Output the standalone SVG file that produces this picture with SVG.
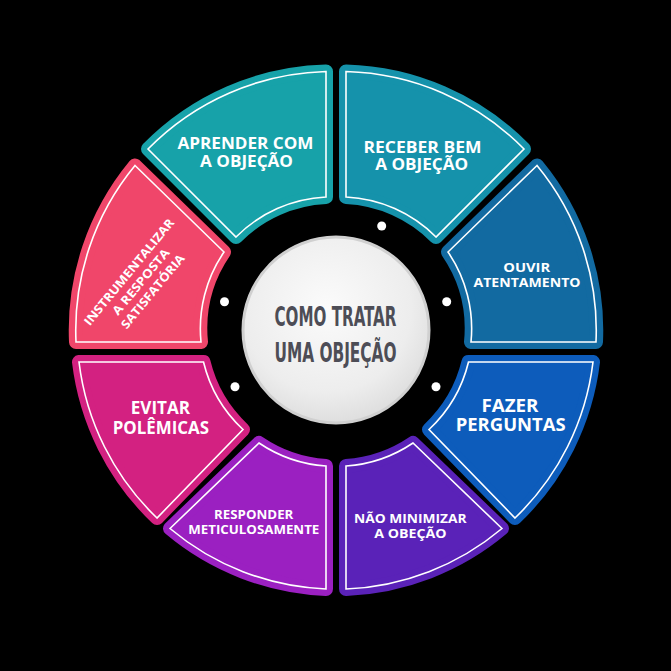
<svg xmlns="http://www.w3.org/2000/svg" xmlns:xlink="http://www.w3.org/1999/xlink" width="671" height="671" viewBox="0 0 671 671">
<style>
.seg{stroke-width:14;stroke-linejoin:round}
.inl{fill:none;stroke:#ffffff;stroke-width:1.6;stroke-linejoin:miter}
.lbl{font-family:"Open Sans","Liberation Sans",sans-serif;font-weight:700;fill:#ffffff;text-anchor:middle}
.ctr{font-family:"DejaVu Sans Condensed","DejaVu Sans","Liberation Sans",sans-serif;font-weight:700;fill:#4d4d56;text-anchor:middle;font-size:27px}
.dot{fill:#ffffff}
</style>
<defs>
<radialGradient id="cg" cx="0.45" cy="0.38" r="0.65">
<stop offset="0" stop-color="#fbfbfb"/>
<stop offset="0.7" stop-color="#ededed"/>
<stop offset="1" stop-color="#dcdcdc"/>
</radialGradient>
<path id="p-aprender" d="M326,197 L326,71.5 A259,259 0 0 0 148,149 L236,237 A136,136 0 0 1 326,197 Z"/>
<path id="p-receber" d="M346,197 L346,71.5 A259,259 0 0 1 524,149 L436,237 A136,136 0 0 0 346,197 Z"/>
<path id="p-instr" d="M135,165.5 L224,252 A136,136 0 0 0 201,342 L76,342 A259,259 0 0 1 135,165.5 Z"/>
<path id="p-ouvir" d="M537,165.5 L448,252 A136,136 0 0 1 471,342 L596,342 A259,259 0 0 0 537,165.5 Z"/>
<path id="p-evitar" d="M79,362 L203.5,362 A136,136 0 0 0 243,429.5 L157,518 A259,259 0 0 1 79,362 Z"/>
<path id="p-fazer" d="M593,362 L468.5,362 A136,136 0 0 1 429,429.5 L515,518 A259,259 0 0 0 593,362 Z"/>
<path id="p-responder" d="M170,528.5 L259,443 A136,136 0 0 0 326,466 L326,589 A259,259 0 0 1 170,528.5 Z"/>
<path id="p-nao" d="M502,528.5 L413,443 A136,136 0 0 1 346,466 L346,589 A259,259 0 0 0 502,528.5 Z"/>
</defs>
<rect x="0" y="0" width="671" height="671" fill="#000000"/>

<g id="connectors"></g>

<g id="n-instrumentalizar">
<use xlink:href="#p-instr" class="seg" fill="#f0466a" stroke="#f0466a"/>
<use xlink:href="#p-instr" class="inl"/>
<text class="lbl" font-size="12" transform="translate(140.8,281.7) rotate(-50.5)"><tspan x="0" y="-11" textLength="134" lengthAdjust="spacingAndGlyphs">INSTRUMENTALIZAR</tspan><tspan x="0" y="4.3" textLength="82" lengthAdjust="spacingAndGlyphs">A RESPOSTA</tspan><tspan x="0" y="19.6" textLength="92" lengthAdjust="spacingAndGlyphs">SATISFATÓRIA</tspan></text>
</g>

<g id="n-aprender">
<use xlink:href="#p-aprender" class="seg" fill="#17a2a9" stroke="#17a2a9"/>
<use xlink:href="#p-aprender" class="inl"/>
<text class="lbl" font-size="15.5"><tspan x="245.5" y="149.3" textLength="136" lengthAdjust="spacingAndGlyphs">APRENDER COM</tspan><tspan x="246.5" y="166.7" textLength="93" lengthAdjust="spacingAndGlyphs">A OBJEÇÃO</tspan></text>
</g>

<g id="n-receber">
<use xlink:href="#p-receber" class="seg" fill="#1592ab" stroke="#1592ab"/>
<use xlink:href="#p-receber" class="inl"/>
<text class="lbl" font-size="15.5"><tspan x="422.5" y="152.7" textLength="118" lengthAdjust="spacingAndGlyphs">RECEBER BEM</tspan><tspan x="421.7" y="170" textLength="93" lengthAdjust="spacingAndGlyphs">A OBJEÇÃO</tspan></text>
</g>

<g id="n-ouvir">
<use xlink:href="#p-ouvir" class="seg" fill="#126aa1" stroke="#126aa1"/>
<use xlink:href="#p-ouvir" class="inl"/>
<text class="lbl" font-size="13"><tspan x="526.7" y="271.7" textLength="47" lengthAdjust="spacingAndGlyphs">OUVIR</tspan><tspan x="527" y="286.5" textLength="107" lengthAdjust="spacingAndGlyphs">ATENTAMENTO</tspan></text>
</g>

<g id="n-fazer">
<use xlink:href="#p-fazer" class="seg" fill="#0d5cbb" stroke="#0d5cbb"/>
<use xlink:href="#p-fazer" class="inl"/>
<text class="lbl" font-size="17"><tspan x="510" y="411.7" textLength="57" lengthAdjust="spacingAndGlyphs">FAZER</tspan><tspan x="510.7" y="430.7" textLength="110" lengthAdjust="spacingAndGlyphs">PERGUNTAS</tspan></text>
</g>

<g id="n-nao-minimizar">
<use xlink:href="#p-nao" class="seg" fill="#5a22b8" stroke="#5a22b8"/>
<use xlink:href="#p-nao" class="inl"/>
<text class="lbl" font-size="12.5"><tspan x="410.3" y="523.3" textLength="112.7" lengthAdjust="spacingAndGlyphs">NÃO MINIMIZAR</tspan><tspan x="410.5" y="538.3" textLength="72.3" lengthAdjust="spacingAndGlyphs">A OBEÇÃO</tspan></text>
</g>

<g id="n-responder">
<use xlink:href="#p-responder" class="seg" fill="#9b20c1" stroke="#9b20c1"/>
<use xlink:href="#p-responder" class="inl"/>
<text class="lbl" font-size="12.5"><tspan x="253.7" y="519.3" textLength="79.3" lengthAdjust="spacingAndGlyphs">RESPONDER</tspan><tspan x="253.8" y="534.3" textLength="131" lengthAdjust="spacingAndGlyphs">METICULOSAMENTE</tspan></text>
</g>

<g id="n-evitar">
<use xlink:href="#p-evitar" class="seg" fill="#d32181" stroke="#d32181"/>
<use xlink:href="#p-evitar" class="inl"/>
<text class="lbl" font-size="17"><tspan x="160.4" y="414" textLength="59.3" lengthAdjust="spacingAndGlyphs">EVITAR</tspan><tspan x="160.9" y="434" textLength="96.3" lengthAdjust="spacingAndGlyphs">POLÊMICAS</tspan></text>
</g>

<g id="dots">
<circle class="dot" cx="381.7" cy="226" r="4.5"/>
<circle class="dot" cx="446.7" cy="301.7" r="4.5"/>
<circle class="dot" cx="436" cy="386.7" r="4.5"/>
<circle class="dot" cx="224.5" cy="301.7" r="4.5"/>
<circle class="dot" cx="235" cy="386.7" r="4.5"/>
</g>

<g id="n-center">
<circle cx="336" cy="330" r="93" fill="url(#cg)" stroke="#d0d0d0" stroke-width="3"/>
<text class="ctr"><tspan x="335.5" y="326" textLength="122" lengthAdjust="spacingAndGlyphs">COMO TRATAR</tspan><tspan x="335.5" y="362" textLength="122" lengthAdjust="spacingAndGlyphs">UMA OBJEÇÃO</tspan></text>
</g>
</svg>
